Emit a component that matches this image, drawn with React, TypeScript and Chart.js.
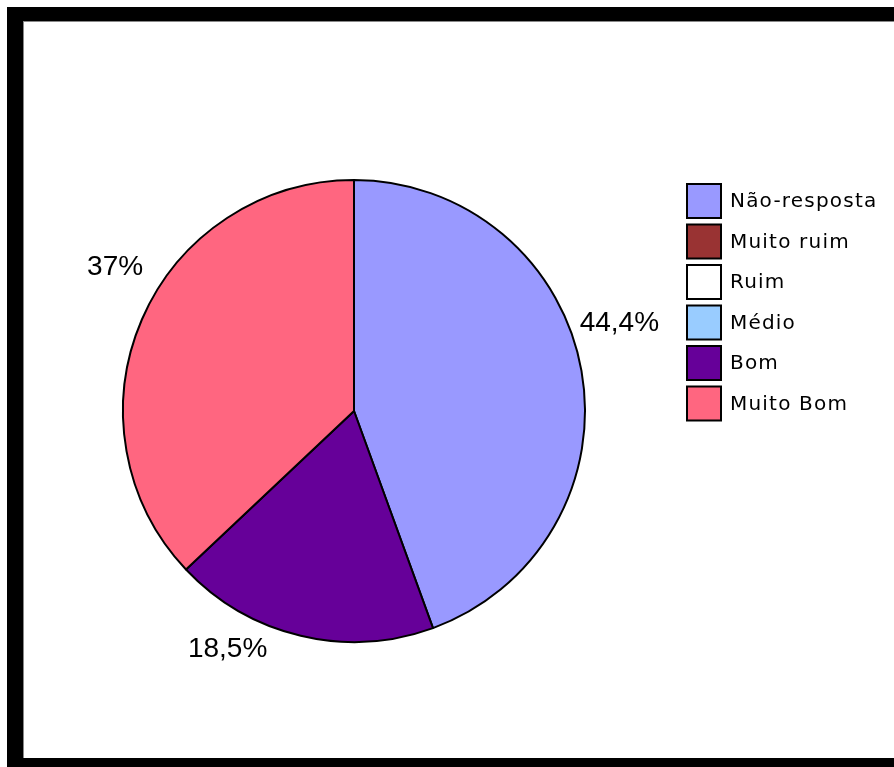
import React, { useEffect, useRef } from "react";
import { Chart, registerables } from "chart.js";

Chart.register(...registerables);

const categories = ["Não-resposta", "Muito ruim", "Ruim", "Médio", "Bom", "Muito Bom"];
const percentValues = [44.4, 0, 0, 0, 18.5, 37];
const sliceColors = ["#9999FF", "#993333", "#FFFFFF", "#99CCFF", "#660099", "#FF6680"];

// label placement tweaks (degrees / px beyond the rim), layout only
const labelAngleNudge = [-8.6, 0, 0, 0, 14.8, 8.1];
const labelRadialGap = [49, 0, 0, 0, 37, 49];

const CANVAS_W = 871;
const CANVAS_H = 737;

const legendPlugin = {
  id: "sideLegend",
  afterDraw(chart: any) {
    const ctx = chart.ctx;
    const x0 = 663;
    const y0 = 162;
    const step = 40.5;
    const size = 36;
    ctx.save();
    ctx.font = "20px 'DejaVu Sans'";
    (ctx as any).letterSpacing = "1.2px";
    ctx.textAlign = "left";
    ctx.textBaseline = "middle";
    chart.data.labels.forEach((lab: string, i: number) => {
      const y = y0 + i * step;
      ctx.fillStyle = chart.data.datasets[0].backgroundColor[i];
      ctx.fillRect(x0 + 1, y + 1, size - 2, size - 2);
      ctx.lineWidth = 2;
      ctx.strokeStyle = "#000";
      ctx.strokeRect(x0 + 1, y + 1, size - 2, size - 2);
      ctx.fillStyle = "#000";
      ctx.fillText(lab, x0 + size + 8, y + size / 2 + 1);
    });
    ctx.restore();
  },
};

const pctLabelPlugin = {
  id: "pctLabels",
  afterDatasetsDraw(chart: any) {
    const ctx = chart.ctx;
    const meta = chart.getDatasetMeta(0);
    const data = chart.data.datasets[0].data as number[];
    ctx.save();
    ctx.font = "28px 'Liberation Sans', Arial, sans-serif";
    ctx.textAlign = "center";
    ctx.textBaseline = "middle";
    ctx.fillStyle = "#000";
    meta.data.forEach((arc: any, i: number) => {
      const v = data[i];
      if (!v) return;
      const p = arc.getProps(["x", "y", "startAngle", "endAngle", "outerRadius"], true);
      const mid = (p.startAngle + p.endAngle) / 2 + (labelAngleNudge[i] * Math.PI) / 180;
      const r = p.outerRadius + labelRadialGap[i];
      const tx = p.x + Math.cos(mid) * r;
      const ty = p.y + Math.sin(mid) * r;
      ctx.fillText(String(v).replace(".", ",") + "%", tx, ty + 2);
    });
    ctx.restore();
  },
};

export default function App() {
  const ref = useRef<HTMLCanvasElement | null>(null);
  useEffect(() => {
    if (!ref.current) return;
    const chart = new Chart(ref.current, {
      type: "pie",
      data: {
        labels: categories,
        datasets: [
          {
            data: percentValues,
            backgroundColor: sliceColors,
            borderColor: "#000",
            borderWidth: 2,
          },
        ],
      },
      options: {
        responsive: false,
        animation: false,
        layout: { padding: { left: 99, top: 158, right: CANVAS_W - 99 - 464, bottom: CANVAS_H - 158 - 464 } },
        plugins: {
          legend: { display: false },
          tooltip: { enabled: false },
        },
      },
      plugins: [legendPlugin, pctLabelPlugin],
    });
    return () => chart.destroy();
  }, []);

  return (
    <div style={{ position: "absolute", left: 0, top: 0, width: 894, height: 767, overflow: "hidden", background: "#fff" }}>
      <div style={{ position: "absolute", left: 7, top: 7, width: 900, height: 800, background: "#000" }} />
      <div
        style={{
          position: "absolute",
          left: 23,
          top: 21,
          width: 880,
          height: 737,
          background: "#fff",
          boxShadow: "inset 1px 1px 0 #888",
        }}
      />
      <canvas ref={ref} width={CANVAS_W} height={CANVAS_H} style={{ position: "absolute", left: 23, top: 21 }} />
    </div>
  );
}
